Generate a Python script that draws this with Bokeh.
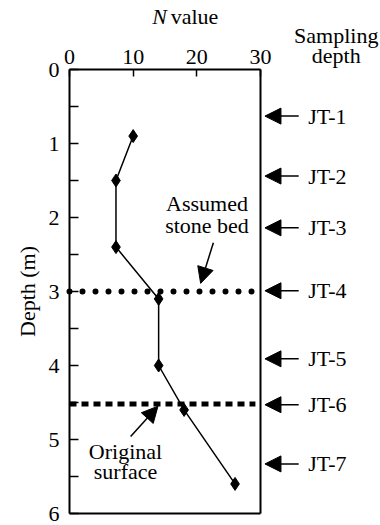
from bokeh.plotting import figure
from bokeh.models import (Range1d, LinearAxis, FixedTicker, Label, Arrow, NormalHead,
                          ColumnDataSource)
from bokeh.embed import file_html
from bokeh.resources import INLINE

# ---- data ----
n_values = [10, 7.3, 7.3, 14, 14, 18, 26]
depths = [0.9, 1.5, 2.4, 3.1, 4.0, 4.6, 5.6]
sample_labels = ["JT-1", "JT-2", "JT-3", "JT-4", "JT-5", "JT-6", "JT-7"]
sample_depths = [0.63, 1.44, 2.14, 2.99, 3.91, 4.53, 5.33]
stone_bed_depth = 3.0
original_surface_depth = 4.52
x_ticks = [0, 10, 20, 30]
y_ticks = [0, 1, 2, 3, 4, 5, 6]
y_minor_ticks = [0.5, 1.5, 2.5, 3.5, 4.5, 5.5]
X_MAX = 30
Y_MAX = 6

FONT = "Liberation Serif"
FS = "22px"

W, H = 380, 525
LEFT, TOP = 69, 69
px_per_x = 191 / 30.0
px_per_y = 444 / 6.0

p = figure(width=W, height=H, output_backend="svg", toolbar_location=None,
           x_range=Range1d(-LEFT / px_per_x, (W - LEFT) / px_per_x),
           y_range=Range1d((H - TOP) / px_per_y, -TOP / px_per_y),
           x_axis_location=None, y_axis_location=None,
           min_border=0)
p.outline_line_color = None
p.xgrid.visible = False
p.ygrid.visible = False
p.background_fill_color = "white"
p.border_fill_color = "white"

# top axis
xa = LinearAxis(ticker=FixedTicker(ticks=x_ticks), bounds=(0, X_MAX), fixed_location=0)
xa.axis_line_width = 2
xa.major_tick_in = 7
xa.major_tick_out = 0
xa.major_tick_line_width = 1.5
xa.minor_tick_line_color = None
xa.major_label_text_font = FONT
xa.major_label_text_font_size = FS
xa.major_label_text_color = "black"
xa.major_label_standoff = 6
p.add_layout(xa, "above")

# left axis
ya = LinearAxis(ticker=FixedTicker(ticks=y_ticks, minor_ticks=y_minor_ticks), bounds=(0, Y_MAX),
                fixed_location=0)
ya.axis_line_width = 2
ya.major_tick_in = 9
ya.major_tick_out = 0
ya.minor_tick_in = 9
ya.minor_tick_out = 0
ya.major_tick_line_width = 1.5
ya.minor_tick_line_width = 1.5
ya.minor_tick_line_color = "black"
ya.major_label_text_font = FONT
ya.major_label_text_font_size = FS
ya.major_label_text_color = "black"
ya.major_label_standoff = 10
ya.axis_label = "Depth (m)"
ya.axis_label_text_font = FONT
ya.axis_label_text_font_size = FS
ya.axis_label_text_font_style = "normal"
ya.axis_label_text_color = "black"
ya.axis_label_standoff = 6
p.add_layout(ya, "left")

# box right and bottom edges
p.segment(x0=[X_MAX, 0], y0=[0, Y_MAX], x1=[X_MAX, X_MAX], y1=[Y_MAX, Y_MAX],
          line_color="black", line_width=2)

# reference lines
p.line(x=[0, 29.2], y=[stone_bed_depth, stone_bed_depth], line_color="black",
       line_width=6, line_dash="0 13", line_cap="round")
p.line(x=[0, 29.2], y=[original_surface_depth, original_surface_depth], line_color="black",
       line_width=5, line_dash="7 5", line_cap="butt")

# data
p.line(x=n_values, y=depths, line_color="black", line_width=1.5)
p.scatter(x=n_values, y=depths, marker="diamond", size=13, fill_color="black",
          line_color="black")

# sampling arrows
src = ColumnDataSource(dict(x0=[36.0] * len(sample_depths), x1=[30.7] * len(sample_depths),
                            y=sample_depths))
p.add_layout(Arrow(end=NormalHead(size=16, fill_color="black", line_color="black"),
                   x_start="x0", y_start="y", x_end="x1", y_end="y", source=src,
                   line_width=1.5, line_color="black"))
for lab, d in zip(sample_labels, sample_depths):
    p.add_layout(Label(x=37.5, y=d, text=lab, text_font=FONT, text_font_size=FS,
                       text_baseline="middle", text_align="left", text_color="black"))

# annotation arrows
p.add_layout(Arrow(end=NormalHead(size=16, fill_color="black", line_color="black"),
                   x_start=22.6, y_start=2.34, x_end=20.6, y_end=2.89,
                   line_width=1.5, line_color="black"))
p.add_layout(Arrow(end=NormalHead(size=16, fill_color="black", line_color="black"),
                   x_start=9.6, y_start=4.96, x_end=13.9, y_end=4.55,
                   line_width=1.5, line_color="black"))

MID = 7.4 / px_per_y  # baseline -> middle offset in data units

def add_text(x, y_base, text, align="center", italic=False):
    kw = dict(x=x, y=y_base - MID, text=text, text_font=FONT, text_font_size=FS,
              text_baseline="middle", text_align=align, text_color="black")
    if italic:
        kw["text_font_style"] = "italic"
    p.add_layout(Label(**kw))

add_text(21.6, 1.905, "Assumed")
add_text(21.6, 2.21, "stone bed")
add_text(8.8, 5.26, "Original")
add_text(8.8, 5.53, "surface")
add_text(41.9, -0.365, "Sampling")
add_text(41.9, -0.095, "depth")
add_text(15.3, -0.62, "N", align="right", italic=True)
add_text(15.9, -0.62, "value", align="left")

open("out.html", "w").write(file_html(p, INLINE))
